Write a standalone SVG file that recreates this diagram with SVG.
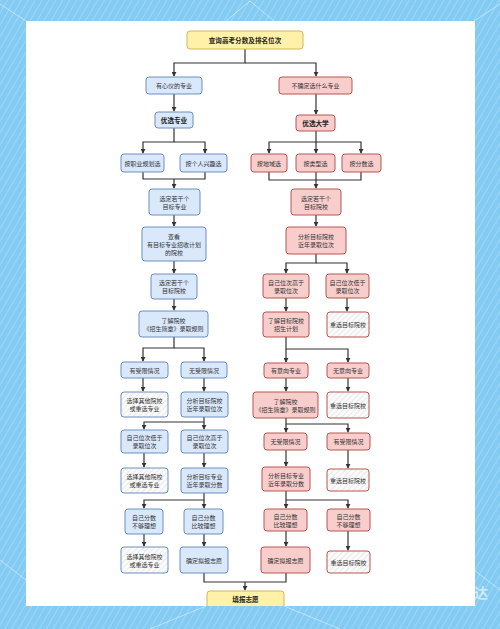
<svg xmlns="http://www.w3.org/2000/svg" width="500" height="629" viewBox="0 0 500 629">
<style>
text{font-family:"Noto Sans CJK SC","Noto Sans",sans-serif;font-size:6px;fill:#333;text-anchor:middle;dominant-baseline:central}
.bold{font-weight:bold;font-size:6.6px;fill:#222}
rect.b{fill:#dae8fc;stroke:#6c8ebf;stroke-width:1}
rect.r{fill:#f8cecc;stroke:#b85450;stroke-width:1}
rect.y{fill:#fff2a8;stroke:#d6b656;stroke-width:1}
rect.hb{fill:url(#hatch);stroke:#6c8ebf;stroke-width:1}
rect.hr{fill:url(#hatch);stroke:#b85450;stroke-width:1}
#connectors path{fill:none;stroke:#333;stroke-width:1.2}
#connectors path.a{marker-end:url(#arr)}
.deco{stroke:#ffffff;stroke-opacity:0.45;stroke-width:1;fill:none}
</style>
<defs>
<marker id="arr" viewBox="0 0 6 6" refX="5" refY="3" markerWidth="5" markerHeight="5" markerUnits="userSpaceOnUse" orient="auto">
<path d="M0,0 L6,3 L0,6 z" fill="#333"/>
</marker>
<pattern id="hatch" width="4" height="4" patternUnits="userSpaceOnUse" patternTransform="rotate(45)">
<rect width="4" height="4" fill="#fbfbfb"/>
<line x1="0" y1="0" x2="0" y2="4" stroke="#e2e2e2" stroke-width="1.4"/>
</pattern>
<pattern id="tex" width="6" height="6" patternUnits="userSpaceOnUse" patternTransform="rotate(30)">
<rect width="6" height="6" fill="#84cbf3"/>
<line x1="0" y1="0" x2="0" y2="6" stroke="#a6dbf8" stroke-width="1.5"/>
</pattern>
<clipPath id="panel"><rect x="26" y="21" width="449" height="585"/></clipPath>
</defs>
<rect width="500" height="629" fill="url(#tex)"/>
<path class="deco" d="M0,4 L26,21 M226,21 L250,1 L274,21 M500,4 L474,21 M0,560 L26,580 M206,606 L150,629 M284,606 L340,629 M474,570 L500,590"/>
<rect x="26" y="21" width="449" height="585" fill="#ffffff"/>
<text x="481" y="592" style="font-size:14px;fill:#ffffff;fill-opacity:0.6;font-weight:bold">达</text>

<g id="connectors">
<path class="a" d="M245,49 V63 H174 V76"/>
<path class="a" d="M245,63 H316 V76"/>
<path class="a" d="M174,94 V111"/>
<path class="a" d="M174,128 V142 H143 V153"/>
<path class="a" d="M174,142 H205 V153"/>
<path d="M143,172 V179 H205 V172"/>
<path class="a" d="M174,179 V188"/>
<path class="a" d="M174,215 V226"/>
<path class="a" d="M174,261 V273"/>
<path class="a" d="M174,299 V310"/>
<path class="a" d="M174,337 V348 H143 V361"/>
<path class="a" d="M174,348 H204 V361"/>
<path class="a" d="M143,378 V391"/>
<path class="a" d="M204,378 V391"/>
<path class="a" d="M204,417 V422 H144 V429"/>
<path class="a" d="M204,422 V429"/>
<path class="a" d="M144,453 V467"/>
<path class="a" d="M204,453 V467"/>
<path class="a" d="M204,493 V500 H144 V508"/>
<path class="a" d="M204,500 V508"/>
<path class="a" d="M144,534 V546"/>
<path class="a" d="M204,534 V546"/>
<path d="M204,573 V582 H286 V573"/>
<path class="a" d="M245,582 V590"/>
<path class="a" d="M316,94 V114"/>
<path class="a" d="M316,131 V142 H269 V153"/>
<path class="a" d="M316,142 H361 V153"/>
<path class="a" d="M316,142 V153"/>
<path d="M269,172 V180 H361 V172"/>
<path class="a" d="M316,172 V188"/>
<path class="a" d="M316,215 V226"/>
<path class="a" d="M316,254 V263 H286 V273"/>
<path class="a" d="M316,263 H347 V273"/>
<path class="a" d="M286,298 V311"/>
<path class="a" d="M347,298 V311"/>
<path class="a" d="M286,337 V349 H348 V362"/>
<path class="a" d="M286,349 V362"/>
<path class="a" d="M286,378 V391"/>
<path class="a" d="M348,378 V391"/>
<path class="a" d="M286,418 V424 H348 V432"/>
<path class="a" d="M286,424 V432"/>
<path class="a" d="M286,450 V466"/>
<path class="a" d="M348,450 V468"/>
<path class="a" d="M286,491 V500 H348 V508"/>
<path class="a" d="M286,500 V508"/>
<path class="a" d="M286,531 V546"/>
<path class="a" d="M348,531 V550"/>
</g>

<g id="n_top"><rect class="y" x="187" y="31" width="116" height="18" rx="3"/><text class="bold" x="245" y="40">查询高考分数及排名位次</text></g>
<g id="n_l1"><rect class="b" x="146" y="77" width="56" height="17" rx="3"/><text x="174" y="85.5">有心仪的专业</text></g>
<g id="n_r1"><rect class="r" x="279" y="77" width="73" height="17" rx="3"/><text x="315.5" y="85.5">不确定选什么专业</text></g>
<g id="n_l2"><rect class="b" x="155" y="112" width="38" height="16" rx="3"/><text class="bold" x="174" y="120">优选专业</text></g>
<g id="n_r2"><rect class="r" x="296" y="115" width="39" height="16" rx="3"/><text class="bold" x="315.5" y="123">优选大学</text></g>
<g id="n_l3a"><rect class="b" x="121" y="154" width="43" height="18" rx="3"/><text x="142.5" y="163">按职业规划选</text></g>
<g id="n_l3b"><rect class="b" x="180" y="154" width="47" height="18" rx="3"/><text x="203.5" y="163">按个人兴趣选</text></g>
<g id="n_r3a"><rect class="r" x="251" y="154" width="36" height="18" rx="3"/><text x="269" y="163">按地域选</text></g>
<g id="n_r3b"><rect class="r" x="296" y="154" width="39" height="18" rx="3"/><text x="315.5" y="163">按类型选</text></g>
<g id="n_r3c"><rect class="r" x="342" y="154" width="39" height="18" rx="3"/><text x="361.5" y="163">按分数选</text></g>
<g id="n_l4"><rect class="b" x="149" y="189" width="51" height="26" rx="3"/><text x="174.5" y="198">选定若干个</text><text x="174.5" y="206">目标专业</text></g>
<g id="n_r4"><rect class="r" x="291" y="189" width="50" height="26" rx="3"/><text x="316" y="198">选定若干个</text><text x="316" y="206">目标院校</text></g>
<g id="n_l5"><rect class="b" x="142" y="227" width="64" height="34" rx="3"/><text x="174" y="236">查看</text><text x="174" y="244">有目标专业招收计划</text><text x="174" y="252">的院校</text></g>
<g id="n_r5"><rect class="r" x="286" y="227" width="60" height="27" rx="3"/><text x="316" y="236.5">分析目标院校</text><text x="316" y="244.5">近年录取位次</text></g>
<g id="n_l6"><rect class="b" x="151" y="274" width="46" height="25" rx="3"/><text x="174" y="282.5">选定若干个</text><text x="174" y="290.5">目标院校</text></g>
<g id="n_r6a"><rect class="r" x="263" y="274" width="46" height="24" rx="3"/><text x="286" y="282">自己位次高于</text><text x="286" y="290">录取位次</text></g>
<g id="n_r6b"><rect class="r" x="326" y="274" width="43" height="24" rx="3"/><text x="347.5" y="282">自己位次低于</text><text x="347.5" y="290">录取位次</text></g>
<g id="n_l7"><rect class="b" x="139" y="311" width="69" height="26" rx="3"/><text x="173.5" y="320">了解院校</text><text x="173.5" y="328">《招生简章》录取规则</text></g>
<g id="n_r7a"><rect class="r" x="263" y="312" width="46" height="25" rx="3"/><text x="286" y="320.5">了解目标院校</text><text x="286" y="328.5">招生计划</text></g>
<g id="n_r7b"><rect class="hr" x="327" y="312" width="42" height="25" rx="3"/><text x="348" y="324.5">重选目标院校</text></g>
<g id="n_l8a"><rect class="b" x="121" y="362" width="47" height="16" rx="3"/><text x="144.5" y="370">有受限情况</text></g>
<g id="n_l8b"><rect class="b" x="181" y="362" width="46" height="16" rx="3"/><text x="204" y="370">无受限情况</text></g>
<g id="n_r8a"><rect class="r" x="264" y="363" width="44" height="15" rx="3"/><text x="286" y="370.5">有意向专业</text></g>
<g id="n_r8b"><rect class="r" x="327" y="363" width="42" height="15" rx="3"/><text x="348" y="370.5">无意向专业</text></g>
<g id="n_l9a"><rect class="hb" x="121" y="392" width="47" height="25" rx="3"/><text x="144.5" y="400.5">选择其他院校</text><text x="144.5" y="408.5">或重选专业</text></g>
<g id="n_l9b"><rect class="b" x="181" y="392" width="47" height="25" rx="3"/><text x="204.5" y="400.5">分析目标院校</text><text x="204.5" y="408.5">近年录取位次</text></g>
<g id="n_r9a"><rect class="r" x="253" y="392" width="65" height="26" rx="3"/><text x="285.5" y="401">了解院校</text><text x="285.5" y="409">《招生简章》录取规则</text></g>
<g id="n_r9b"><rect class="hr" x="327" y="392" width="42" height="26" rx="3"/><text x="348" y="405">重选目标院校</text></g>
<g id="n_l10a"><rect class="b" x="121" y="430" width="47" height="23" rx="3"/><text x="144.5" y="437.5">自己位次低于</text><text x="144.5" y="445.5">录取位次</text></g>
<g id="n_l10b"><rect class="b" x="181" y="430" width="47" height="23" rx="3"/><text x="204.5" y="437.5">自己位次高于</text><text x="204.5" y="445.5">录取位次</text></g>
<g id="n_r10a"><rect class="r" x="264" y="433" width="43" height="17" rx="3"/><text x="285.5" y="441.5">无受限情况</text></g>
<g id="n_r10b"><rect class="r" x="327" y="433" width="43" height="17" rx="3"/><text x="348.5" y="441.5">有受限情况</text></g>
<g id="n_l11a"><rect class="hb" x="121" y="468" width="47" height="25" rx="3"/><text x="144.5" y="476.5">选择其他院校</text><text x="144.5" y="484.5">或重选专业</text></g>
<g id="n_l11b"><rect class="b" x="181" y="468" width="47" height="25" rx="3"/><text x="204.5" y="476.5">分析目标专业</text><text x="204.5" y="484.5">近年录取分数</text></g>
<g id="n_r11a"><rect class="r" x="262" y="467" width="48" height="24" rx="3"/><text x="286" y="475">分析目标专业</text><text x="286" y="483">近年录取分数</text></g>
<g id="n_r11b"><rect class="hr" x="327" y="469" width="42" height="22" rx="3"/><text x="348" y="480">重选目标院校</text></g>
<g id="n_l12a"><rect class="b" x="125" y="509" width="38" height="25" rx="3"/><text x="144" y="517.5">自己分数</text><text x="144" y="525.5">不够理想</text></g>
<g id="n_l12b"><rect class="b" x="184" y="509" width="39" height="25" rx="3"/><text x="203.5" y="517.5">自己分数</text><text x="203.5" y="525.5">比较理想</text></g>
<g id="n_r12a"><rect class="r" x="264" y="509" width="43" height="22" rx="3"/><text x="285.5" y="516.5">自己分数</text><text x="285.5" y="524.5">比较理想</text></g>
<g id="n_r12b"><rect class="r" x="327" y="509" width="43" height="22" rx="3"/><text x="348.5" y="516.5">自己分数</text><text x="348.5" y="524.5">不够理想</text></g>
<g id="n_l13a"><rect class="hb" x="121" y="547" width="47" height="26" rx="3"/><text x="144.5" y="556">选择其他院校</text><text x="144.5" y="564">或重选专业</text></g>
<g id="n_l13b"><rect class="b" x="180" y="547" width="48" height="26" rx="3"/><text x="204" y="560">确定拟报志愿</text></g>
<g id="n_r13a"><rect class="r" x="261" y="547" width="49" height="26" rx="3"/><text x="285.5" y="560">确定拟报志愿</text></g>
<g id="n_r13b"><rect class="hr" x="327" y="551" width="43" height="22" rx="3"/><text x="348.5" y="562">重选目标院校</text></g>
<g id="n_end" clip-path="url(#panel)"><rect class="y" x="207" y="591" width="77" height="22" rx="3"/><text class="bold" x="245.5" y="599">填报志愿</text></g>
</svg>
